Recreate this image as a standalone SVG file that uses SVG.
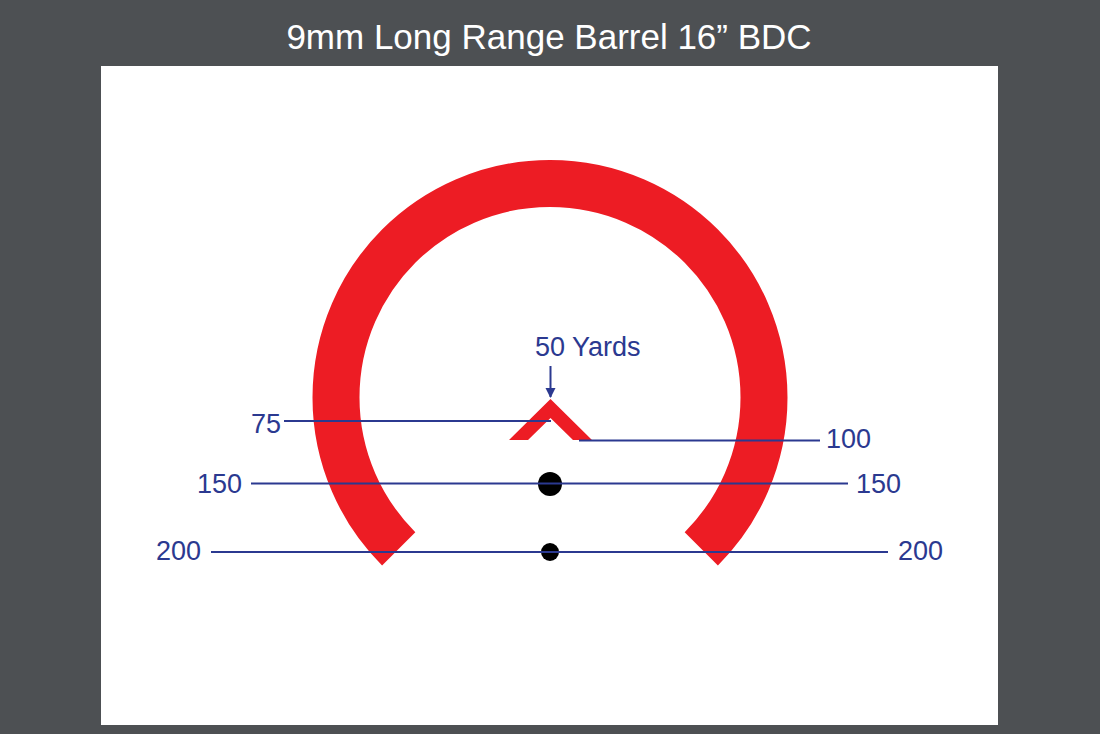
<svg xmlns="http://www.w3.org/2000/svg" width="1100" height="734" viewBox="0 0 1100 734">
  <defs>
    <style>
      .lbl { font-family: "Liberation Sans", Arial, sans-serif; font-size: 27px; fill: #2b3990; }
      .title { font-family: "Liberation Sans", Arial, sans-serif; font-size: 35px; fill: #ffffff; }
      .ln { stroke: #2b3990; stroke-width: 2; fill: none; }
      .red { fill: #ed1c24; }
      .dot { fill: #000000; }
    </style>
    <marker id="arrow" markerWidth="10" markerHeight="12" refX="9" refY="5" orient="auto" markerUnits="userSpaceOnUse">
      <path d="M0,0 L10,5 L0,10 Z" fill="#2b3990"/>
    </marker>
  </defs>
  <rect x="0" y="0" width="1100" height="734" fill="#4d5053"/>
  <rect x="101" y="66" width="897" height="659" fill="#ffffff"/>
  <text class="title" x="549" y="49" text-anchor="middle">9mm Long Range Barrel 16” BDC</text>

  <g id="ring">
    <path d="M398.7,548.8 A214,214 0 1 1 701.3,548.8" fill="none" stroke="#ed1c24" stroke-width="47"/>
  </g>
  <g id="chevron">
    <polygon class="red" points="509,440 550.5,399 592,440 573,440 550.5,418 528,440"/>
  </g>
  <g id="dot150">
    <circle class="dot" cx="550" cy="484" r="12"/>
  </g>
  <g id="dot200">
    <circle class="dot" cx="550" cy="552" r="9"/>
  </g>

  <g id="label-50">
    <text class="lbl" x="535" y="356">50 Yards</text>
  </g>
  <g id="label-75"><text class="lbl" x="281" y="433" text-anchor="end">75</text></g>
  <g id="label-100"><text class="lbl" x="826" y="448">100</text></g>
  <g id="label-150L"><text class="lbl" x="242" y="493" text-anchor="end">150</text></g>
  <g id="label-150R"><text class="lbl" x="856" y="493">150</text></g>
  <g id="label-200L"><text class="lbl" x="201" y="560" text-anchor="end">200</text></g>
  <g id="label-200R"><text class="lbl" x="898" y="560">200</text></g>

  <g id="connectors">
    <line class="ln" x1="550.5" y1="366" x2="550.5" y2="397" marker-end="url(#arrow)"/>
    <line class="ln" x1="284" y1="421" x2="551" y2="421"/>
    <line class="ln" x1="579" y1="440.5" x2="820" y2="440.5"/>
    <line class="ln" x1="251" y1="483.5" x2="848" y2="483.5"/>
    <line class="ln" x1="211" y1="552" x2="888" y2="552"/>
  </g>
</svg>
